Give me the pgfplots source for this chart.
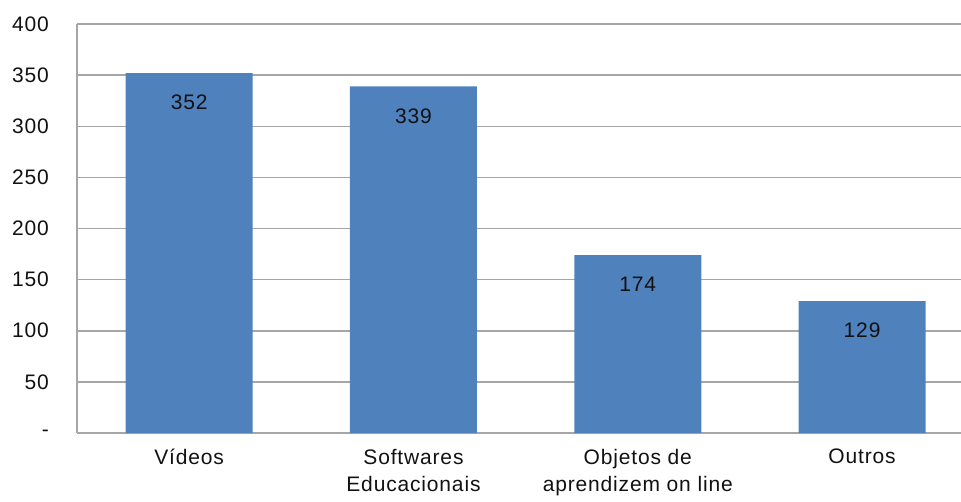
\documentclass[border=0pt]{standalone}
\usepackage{pgfplots}
\pgfplotsset{compat=1.18}
\usepackage{fontspec}
\setmainfont{Liberation Sans}[LetterSpace=4]
\definecolor{barblue}{HTML}{4F81BD}
\definecolor{gridgray}{HTML}{A6A6A6}
\definecolor{txt}{HTML}{111111}
\begin{document}
\fontsize{21pt}{27pt}\selectfont
\begin{tikzpicture}
\useasboundingbox (0,0) rectangle (961pt,501pt);
\begin{axis}[
  at={(77pt,68pt)}, anchor=south west,
  scale only axis, width=884pt, height=409pt,
  xmin=-0.5, xmax=3.441, ymin=0, ymax=400,
  ybar, bar width=127pt,
  axis line style={gridgray, line width=1.5pt},
  axis x line*=bottom, axis y line*=left,
  xtick=data, xticklabels={Vídeos, Softwares\\Educacionais, Objetos de\\aprendizem on line, Outros},
  xticklabel style={align=center, text=txt, font=\fontsize{21pt}{27pt}\selectfont, yshift=-9pt},
  ytick={0,50,...,400}, yticklabels={-,50,100,150,200,250,300,350,400},
  yticklabel style={text=txt, font=\fontsize{21pt}{25pt}\selectfont, xshift=-21pt},
  /pgf/number format/assume math mode=true,
  major tick length=0pt,
  ymajorgrids, grid style={gridgray, line width=1.5pt},
  nodes near coords, every node near coord/.append style={anchor=north, yshift=-15pt, text=txt, font=\fontsize{21pt}{25pt}\selectfont},
  clip=false,
]
\addplot[fill=barblue, draw=none] coordinates {(0,352) (1,339) (2,174) (3,129)};
\end{axis}
\end{tikzpicture}
\end{document}
